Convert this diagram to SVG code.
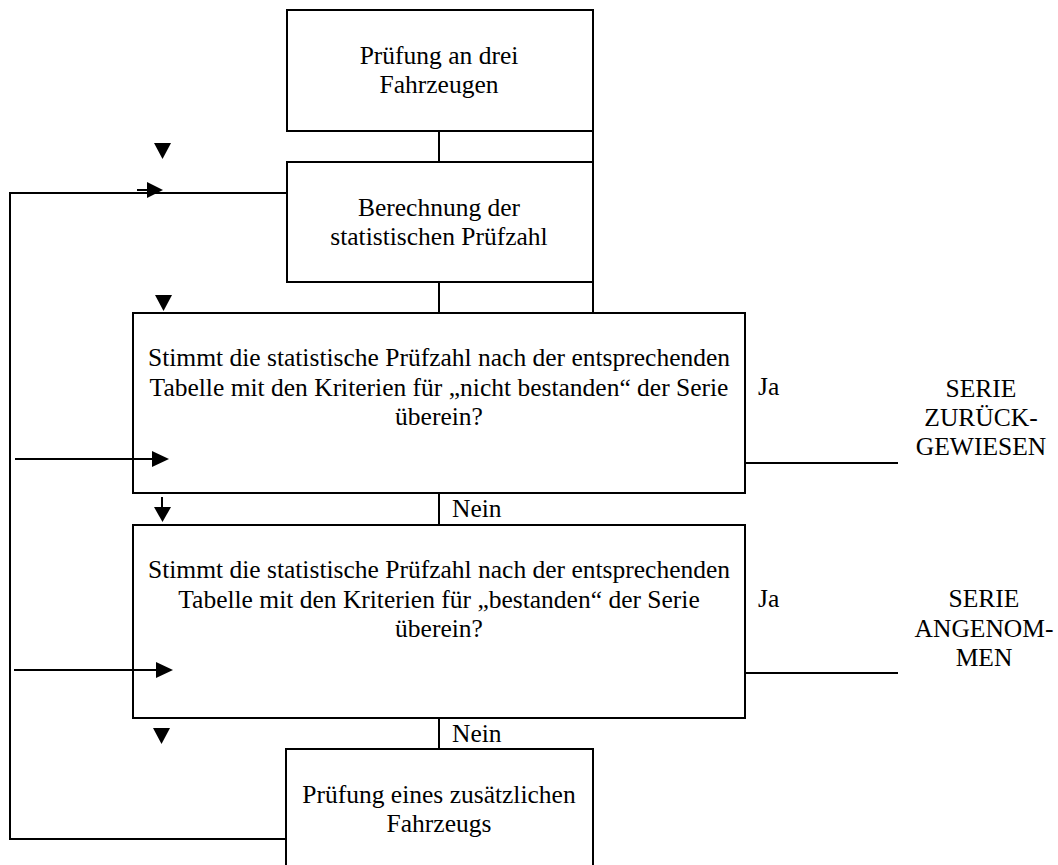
<svg xmlns="http://www.w3.org/2000/svg" width="1058" height="865" viewBox="0 0 1058 865">
<style>
.box{fill:#fff;stroke:#000;stroke-width:2}
.ln{fill:none;stroke:#000;stroke-width:2}
.tri{fill:#000;stroke:none}
text{font-family:"Liberation Serif","Times New Roman",serif;font-size:25.5px;fill:#000}
.c{text-anchor:middle}
</style>
<rect width="1058" height="865" fill="#fff"/>
<g id="n1">
<rect class="box" x="287" y="10" width="306" height="121"/>
<text class="c" x="439" y="64">Prüfung an drei</text>
<text class="c" x="439" y="93">Fahrzeugen</text>
</g>
<g id="n2">
<rect class="box" x="287" y="162" width="306" height="120"/>
<text class="c" x="439" y="216">Berechnung der</text>
<text class="c" x="439" y="245">statistischen Prüfzahl</text>
</g>
<g id="n3">
<rect class="box" x="133" y="313" width="612" height="180"/>
<text class="c" x="439" y="366">Stimmt die statistische Prüfzahl nach der entsprechenden</text>
<text class="c" x="439" y="396">Tabelle mit den Kriterien für „nicht bestanden“ der Serie</text>
<text class="c" x="439" y="425">überein?</text>
</g>
<g id="n4">
<rect class="box" x="133" y="525" width="612" height="193"/>
<text class="c" x="439" y="578">Stimmt die statistische Prüfzahl nach der entsprechenden</text>
<text class="c" x="439" y="608">Tabelle mit den Kriterien für „bestanden“ der Serie</text>
<text class="c" x="439" y="637">überein?</text>
</g>
<g id="n5">
<rect class="box" x="286" y="749" width="307" height="130"/>
<text class="c" x="439" y="803">Prüfung eines zusätzlichen</text>
<text class="c" x="439" y="832">Fahrzeugs</text>
</g>
<g id="r1">
<text class="c" x="981" y="397">SERIE</text>
<text class="c" x="981" y="426">ZURÜCK-</text>
<text class="c" x="981" y="455">GEWIESEN</text>
</g>
<g id="r2">
<text class="c" x="984" y="607">SERIE</text>
<text class="c" x="984" y="637">ANGENOM-</text>
<text class="c" x="984" y="666">MEN</text>
</g>
<g id="connectors">
<line class="ln" x1="439" y1="131" x2="439" y2="162"/>
<line class="ln" x1="593" y1="131" x2="593" y2="313"/>
<line class="ln" x1="439" y1="282" x2="439" y2="313"/>
<line class="ln" x1="439" y1="493" x2="439" y2="525"/>
<line class="ln" x1="439" y1="718" x2="439" y2="749"/>
<polyline class="ln" points="286,839 10,839 10,193 287,193"/>
<line class="ln" x1="137" y1="190" x2="150" y2="190"/>
<polygon class="tri" points="147,182 163,190 147,198"/>
<line class="ln" x1="15" y1="459" x2="156" y2="459"/>
<polygon class="tri" points="152,451 169,459 152,467"/>
<line class="ln" x1="14" y1="670" x2="160" y2="670"/>
<polygon class="tri" points="156,662 173,670 156,678"/>
<polygon class="tri" points="154,143 171,143 162.5,159"/>
<polygon class="tri" points="155,295 172,295 163.5,311"/>
<line class="ln" x1="162" y1="497" x2="162" y2="509"/>
<polygon class="tri" points="154,507 171,507 162.5,522"/>
<polygon class="tri" points="153,728 170,728 161.5,744"/>
<line class="ln" x1="745" y1="463" x2="898" y2="463"/>
<line class="ln" x1="745" y1="673" x2="898" y2="673"/>
<text x="452" y="517">Nein</text>
<text x="452" y="742">Nein</text>
<text x="758" y="395">Ja</text>
<text x="758" y="607">Ja</text>
</g>
</svg>
